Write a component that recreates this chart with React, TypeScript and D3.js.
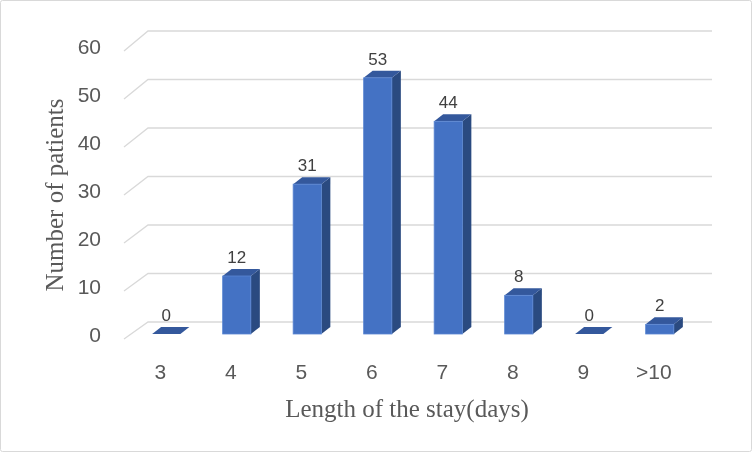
import React from 'react'
import * as d3 from 'd3'

const categories = ['3', '4', '5', '6', '7', '8', '9', '>10']
const patients = [0, 12, 31, 53, 44, 8, 0, 2]
const yTicks = [0, 10, 20, 30, 40, 50, 60]

const W = 752
const H = 452
const depth = { dx: 9, dy: -7 }

export default function App() {
  const x = d3.scaleBand<string>().domain(categories).range([131, 695]).paddingInner(0.6).paddingOuter(0.3)
  // bars sit on the front plane, gridlines on the back wall
  const yBar = d3.scaleLinear().domain([0, 60]).range([334, 44])
  const yWall = d3.scaleLinear().domain([0, 60]).range([322, 31])
  const yFloor = d3.scaleLinear().domain([0, 60]).range([339, 51])

  const bw = x.bandwidth()

  return (
    <div style={{ position: 'fixed', left: 0, top: 0 }}>
      <svg width={W} height={H} style={{ display: 'block' }}>
        <rect x={0.5} y={0.5} width={W - 1} height={H - 1} fill="#fff" stroke="#d9d9d9" rx={2} />

        {/* gridlines */}
        <g stroke="#d9d9d9" strokeWidth={1.3} fill="none">
          {yTicks.map(t => (
            <path key={t} d={`M124,${yFloor(t)}L148,${yWall(t)}H712`} />
          ))}
        </g>

        {/* tick labels */}
        <g fill="#595959" fontFamily="'Liberation Sans', Arial, sans-serif" fontSize={21}>
          {yTicks.map(t => (
            <text key={t} x={101} y={yFloor(t) - 4} dy="0.35em" textAnchor="end">{t}</text>
          ))}
          {categories.map(c => (
            <text key={c} x={(x(c) ?? 0) + bw / 2 - 6} y={372} dy="0.35em" textAnchor="middle">{c}</text>
          ))}
        </g>

        {/* bars */}
        {categories.map((c, i) => {
          const v = patients[i]
          const x0 = x(c) ?? 0
          const x1 = x0 + bw
          const yt = yBar(v)
          const yb = yBar(0)
          const { dx, dy } = depth
          return (
            <g key={c}>
              {v > 0 && (
                <path d={`M${x1},${yb}L${x1 + dx},${yb + dy}L${x1 + dx},${yt + dy}L${x1},${yt}Z`} fill="#2a4a80" />
              )}
              <path d={`M${x0},${yt}L${x0 + dx},${yt + dy}L${x1 + dx},${yt + dy}L${x1},${yt}Z`} fill="#34589c" />
              {v > 0 && (
                <rect x={x0} y={yt} width={bw} height={yb - yt} fill="#4472c4" stroke="#5a86d2" strokeWidth={0.8} />
              )}
              <text x={x0 + bw / 2} y={yt - 13} fill="#404040" fontFamily="'Liberation Sans', Arial, sans-serif" fontSize={17} textAnchor="middle">{v}</text>
            </g>
          )
        })}

        {/* axis titles */}
        <text x={407} y={417} fill="#595959" fontFamily="'Liberation Serif', 'Times New Roman', serif" fontSize={25} textAnchor="middle">Length of the stay(days)</text>
        <text transform="translate(63,195) rotate(-90)" fill="#595959" fontFamily="'Liberation Serif', 'Times New Roman', serif" fontSize={25} textAnchor="middle">Number of patients</text>
      </svg>
    </div>
  )
}
